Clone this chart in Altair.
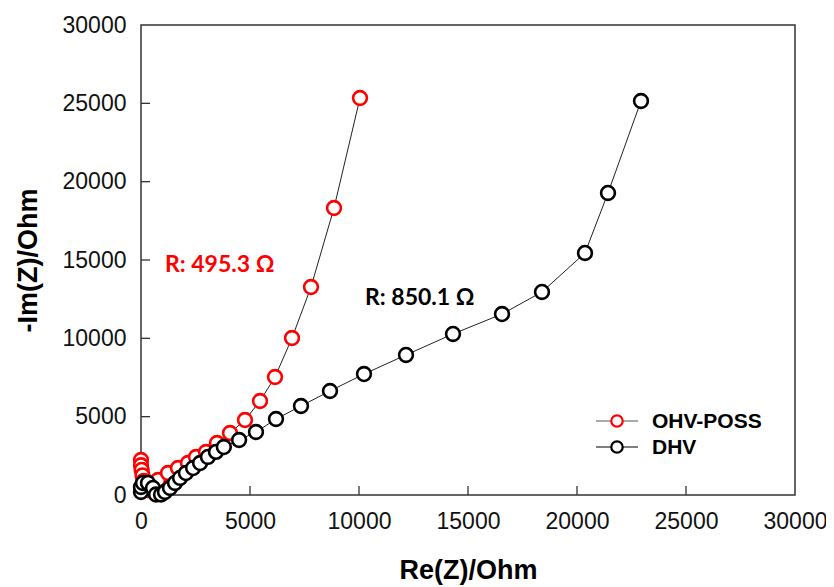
import altair as alt
import pandas as pd

# OHV-POSS (red) Nyquist data
ohv_re = [0, 0, 30, 70, 130, 220, 321, 780, 1239, 1697, 2156, 2523, 2982, 3486, 4083,
          4771, 5459, 6147, 6927, 7798, 8853, 10046]
ohv_im = [2230, 1900, 1600, 1250, 900, 550, 319, 957, 1404, 1723, 2043, 2426, 2745, 3319, 3957,
          4787, 6000, 7531, 10020, 13276, 18319, 25340]

# DHV (black) Nyquist data
dhv_re = [0, 0, 90, 320, 550, 690, 920, 1100, 1330, 1560, 1790, 2060, 2390, 2710, 3070, 3440,
          3800, 4500, 5275, 6193, 7339, 8670, 10229, 12156, 14312, 16560, 18394, 20367,
          21422, 22936]
dhv_im = [190, 510, 770, 770, 450, 30, 30, 190, 450, 770, 1090, 1400, 1720, 2040, 2430, 2750,
          3060, 3510, 4020, 4850, 5680, 6640, 7720, 8940, 10280, 11550, 12960, 15450,
          19280, 25150]

tick_vals = [5000, 10000, 15000, 20000, 25000]
axis_vals = [0, 5000, 10000, 15000, 20000, 25000, 30000]

ann_text = ["R: 495.3 \u03a9", "R: 850.1 \u03a9"]
ann_x = [1100, 10275]
ann_y = [14680, 12580]
ann_color = ["#ff0000", "#000000"]

legend_labels = ["OHV-POSS", "DHV"]
legend_colors = ["#ff0000", "#000000"]
legend_line = ["#555555", "#000000"]

W, H = 654, 470

ohv = pd.DataFrame({"x": ohv_re, "y": ohv_im, "order": range(len(ohv_re))})
dhv = pd.DataFrame({"x": dhv_re, "y": dhv_im, "order": range(len(dhv_re))})

xs = alt.Scale(domain=[0, 30000], nice=False, zero=False)
ys = alt.Scale(domain=[0, 30000], nice=False, zero=False)

X = alt.X("x:Q", scale=xs, title="Re(Z)/Ohm",
          axis=alt.Axis(values=axis_vals, format="d", ticks=False, domain=False, grid=False,
                        labelFlush=False, labelOverlap=False,
                        labelPadding=15, titlePadding=24))
Y = alt.Y("y:Q", scale=ys, title="-Im(Z)/Ohm",
          axis=alt.Axis(values=axis_vals, format="d", ticks=False, domain=False, grid=False,
                        labelFlush=False, labelOverlap=False,
                        labelPadding=15, titlePadding=20))


def series(df, color):
    line = alt.Chart(df).mark_line(color="#222222", strokeWidth=1).encode(
        x=X, y=Y, order="order:Q")
    pts = alt.Chart(df).mark_point(shape="circle", size=190, filled=True, fill="white",
                                   stroke=color, strokeWidth=2.6, opacity=1).encode(x=X, y=Y)
    return line + pts


tickdf = pd.DataFrame({"x": tick_vals, "y": tick_vals})
xticks = alt.Chart(tickdf).mark_rule(color="#333333", strokeWidth=1.3).encode(
    x=alt.X("x:Q", scale=xs, title="Re(Z)/Ohm"), y=alt.value(H), y2=alt.value(H - 9))
yticks = alt.Chart(tickdf).mark_rule(color="#333333", strokeWidth=1.3).encode(
    y=alt.Y("y:Q", scale=ys, title="-Im(Z)/Ohm"), x=alt.value(0), x2=alt.value(9))

ann = pd.DataFrame({"x": ann_x, "y": ann_y, "t": ann_text, "c": ann_color})
annot = alt.Chart(ann).mark_text(align="left", baseline="middle", font="Lato",
                                 fontWeight="bold", fontSize=23).encode(
    x=alt.X("x:Q", scale=xs, title="Re(Z)/Ohm"),
    y=alt.Y("y:Q", scale=ys, title="-Im(Z)/Ohm"),
    text="t:N", color=alt.Color("c:N", scale=None))

# manual legend
leg_layers = []
for i, (lab, col, lc) in enumerate(zip(legend_labels, legend_colors, legend_line)):
    yy = 396 + i * 26
    d = pd.DataFrame({"t": [lab]})
    leg_layers.append(alt.Chart(d).mark_rule(color=lc, strokeWidth=1.2).encode(
        x=alt.value(455), x2=alt.value(497), y=alt.value(yy)))
    leg_layers.append(alt.Chart(d).mark_point(shape="circle", size=130, filled=True,
                                              fill="white", stroke=col, strokeWidth=2.2,
                                              opacity=1).encode(
        x=alt.value(476), y=alt.value(yy)))
    leg_layers.append(alt.Chart(d).mark_text(align="left", baseline="middle",
                                             font="Liberation Sans", fontWeight="bold",
                                             fontSize=21, color="black").encode(
        x=alt.value(511), y=alt.value(yy + 1), text="t:N"))

chart = alt.layer(series(ohv, "#ff0000"), series(dhv, "#000000"), xticks, yticks, annot,
                  *leg_layers).properties(
    width=W, height=H,
    background="white",
    autosize=alt.AutoSizeParams(type="none"),
    padding={"left": 133, "top": 17, "right": 31, "bottom": 92},
).configure_view(stroke="#333333", strokeWidth=1.5).configure_axis(
    labelFont="Liberation Sans", labelFontSize=23, labelColor="#111111",
    titleFont="Liberation Sans", titleFontSize=27, titleFontWeight="bold", titleColor="black",
)

chart.save("out.html", embed_options={"renderer": "svg", "actions": False})
